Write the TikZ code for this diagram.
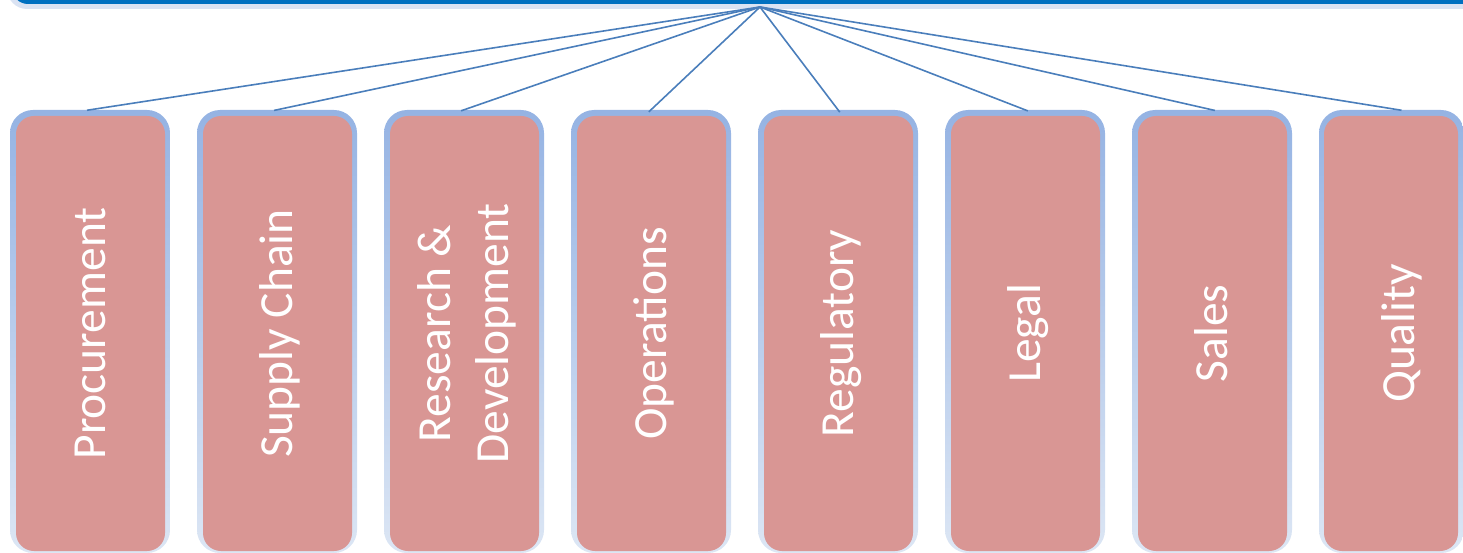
\documentclass[tikz,border=0pt]{standalone}
\usepackage{fontspec}
\setmainfont{Carlito}
\definecolor{boxpink}{HTML}{D99694}
\definecolor{bordtop}{HTML}{95B3E3}
\definecolor{bordbot}{HTML}{DCE6F4}
\definecolor{linkblue}{HTML}{4A7EBB}
\definecolor{topblue}{HTML}{0070C0}
\definecolor{toplight}{HTML}{DAE3F3}
\newcommand\vstrut{\rule[-13.5pt]{0pt}{58pt}}
\begin{document}
\begin{tikzpicture}[x=1pt,y=-1pt,
  outerbox/.style={rectangle, rounded corners=23pt, top color=bordtop, bottom color=bordbot, draw=none, minimum height=443pt, inner sep=0pt},
  innerbox/.style={rectangle, rounded corners=18pt, fill=boxpink, draw=none, minimum height=435pt, inner sep=0pt},
  boxtext/.style={rotate=90, inner sep=0pt, text=white, align=center, font=\fontsize{47.5}{58}\selectfont},
  topbar/.style={rectangle, draw=none, inner sep=0pt},
  link/.style={draw=linkblue, line width=1.6pt, shorten >=-3pt}]
\useasboundingbox (0,0) rectangle (1463,553);
\clip (0,0) rectangle (1463,553);
% top bar
\node[topbar, fill=toplight, rounded corners=20pt, minimum width=1493pt, minimum height=69pt] (topouter) at (753.5,-25.5) {};
\node[topbar, fill=topblue, rounded corners=16pt, minimum width=1488pt, minimum height=64pt] (top) at (756,-28) {};
\coordinate (apex) at (760,7);
% boxes
\foreach \i/\txt in {1/{Procurement},2/{Supply Chain},3/{Research \&\vstrut\\Development},4/{Operations},5/{Regulatory},6/{Legal},7/{Sales}}{
  \pgfmathsetmacro{\cx}{90+187*(\i-1)}
  \node[outerbox, minimum width=160pt] (b\i) at (\cx,331.5) {};
  \node[innerbox, minimum width=149pt] (i\i) at (\cx+0.5,333.5) {};
  \node[boxtext] (t\i) at (\cx,333.5) {\vstrut\txt\vstrut};
}
\node[outerbox, minimum width=145pt] (b8) at (1391.5,331.5) {};
\node[innerbox, minimum width=134pt] (i8) at (1391,333.5) {};
\node[boxtext] (t8) at (1398.5,333.5) {\vstrut Quality};
% links
\foreach \i in {1,...,8}{
  \draw[link] (apex) -- (b\i.north -| t\i.center);
}
\end{tikzpicture}
\end{document}
